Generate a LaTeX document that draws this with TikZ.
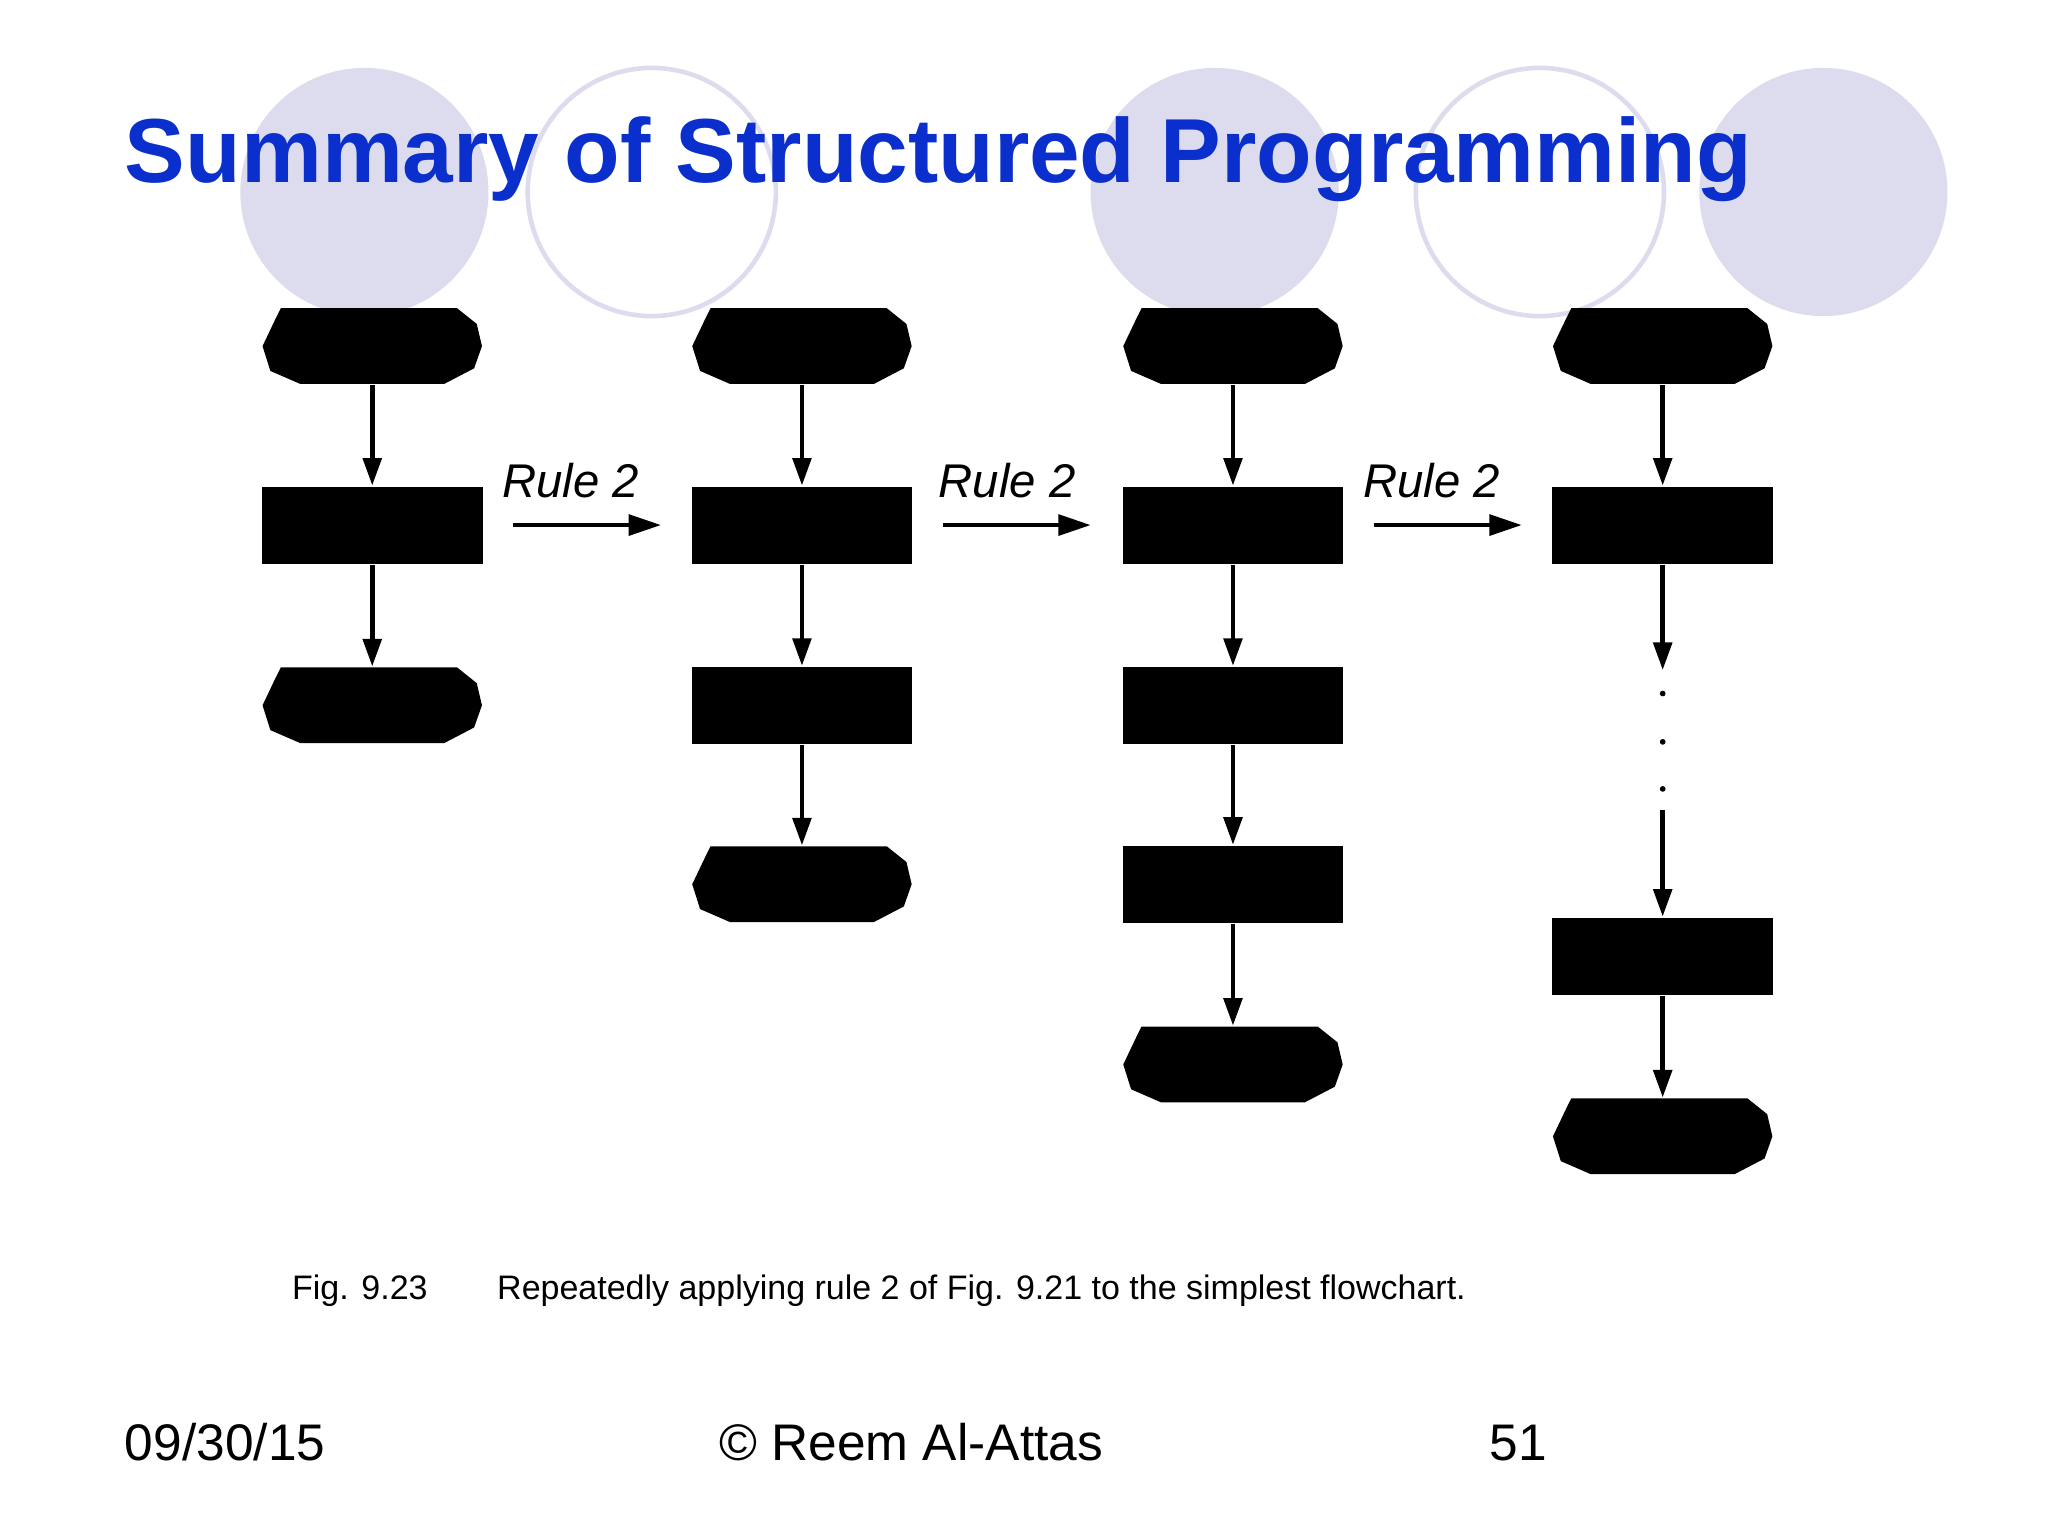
\documentclass[tikz,border=0pt]{standalone}
\usepackage{fontspec}
\setmainfont{Liberation Sans}
\usetikzlibrary{arrows.meta}
\definecolor{lav}{HTML}{DCDCEE}
\definecolor{ttl}{HTML}{0A2FCC}
\newcommand{\termshape}[1]{\fill ([shift={(-70,-29)}]#1.center) -- ([shift={(65,-29)}]#1.center) -- ([shift={(80,-17)}]#1.center) -- ([shift={(84,0)}]#1.center) -- ([shift={(78,17)}]#1.center) -- ([shift={(55,29)}]#1.center) -- ([shift={(-55,29)}]#1.center) -- ([shift={(-78,19)}]#1.center) -- ([shift={(-84,0)}]#1.center) -- ([shift={(-74,-21)}]#1.center) -- cycle;}
\begin{document}
\begin{tikzpicture}[x=0.01cm,y=-0.01cm,
  proc/.style={draw=none,fill=black,minimum width=1.69cm,minimum height=0.59cm,inner sep=0},
  term/.style={draw=none,minimum width=1.69cm,minimum height=0.58cm,inner sep=0},
  flow/.style={line width=0.035cm,-{Triangle[length=6pt,width=4pt]}},
  rulearr/.style={line width=0.03cm,-{Triangle[length=7pt,width=4.5pt]}},
  rulelbl/.style={font=\fontsize{10.3}{12}\selectfont\itshape,anchor=base west,inner sep=0}]
\useasboundingbox (0,0) rectangle (1568,1176);
\fill[white] (0,0) rectangle (1568,1176);
% circles
\fill[lav] (279,147) circle (95);
\fill[lav] (930,147) circle (95);
\fill[lav] (1396,147) circle (95);
\draw[lav,line width=0.035cm] (499,147) circle (95);
\draw[lav,line width=0.035cm] (1179,147) circle (95);
\node[anchor=base west,inner sep=0,text=ttl,font=\fontsize{19.8}{23}\selectfont\bfseries] (title) at (95,140) {Summary of Structured Programming};
% column 1
\node[term] (a1) at (285,265) {};
\node[proc] (a2) at (285,402) {};
\node[term] (a3) at (285,540) {};
\termshape{a1}\termshape{a3}
\draw[flow] (a1) -- (a2);
\draw[flow] (a2) -- (a3);
% column 2
\node[term] (b1) at (614,265) {};
\node[proc] (b2) at (614,402) {};
\node[proc] (b3) at (614,540) {};
\node[term] (b4) at (614,677) {};
\termshape{b1}\termshape{b4}
\draw[flow] (b1) -- (b2);
\draw[flow] (b2) -- (b3);
\draw[flow] (b3) -- (b4);
% column 3
\node[term] (c1) at (944,265) {};
\node[proc] (c2) at (944,402) {};
\node[proc] (c3) at (944,540) {};
\node[proc] (c4) at (944,677) {};
\node[term] (c5) at (944,815) {};
\termshape{c1}\termshape{c5}
\draw[flow] (c1) -- (c2);
\draw[flow] (c2) -- (c3);
\draw[flow] (c3) -- (c4);
\draw[flow] (c4) -- (c5);
% column 4
\node[term] (d1) at (1273,265) {};
\node[proc] (d2) at (1273,402) {};
\coordinate (d2e) at (1273,513);
\coordinate (d3s) at (1273,620);
\node[proc] (d3) at (1273,732) {};
\node[term] (d4) at (1273,870) {};
\termshape{d1}\termshape{d4}
\draw[flow] (d1) -- (d2);
\draw[flow] (d2) -- (d2e);
\draw[flow] (d3s) -- (d3);
\draw[flow] (d3) -- (d4);
\fill (1273,531) circle (2.2);
\fill (1273,568) circle (2.2);
\fill (1273,604) circle (2.2);
% rule arrows
\node[rulelbl] (r1) at (384,381) {Rule 2};
\node[rulelbl] (r2) at (718,381) {Rule 2};
\node[rulelbl] (r3) at (1043,381) {Rule 2};
\coordinate (r1s) at (393,402); \coordinate (r1e) at (506,402);
\coordinate (r2s) at (722,402); \coordinate (r2e) at (835,402);
\coordinate (r3s) at (1052,402); \coordinate (r3e) at (1165,402);
\draw[rulearr] (r1s) -- (r1e);
\draw[rulearr] (r2s) -- (r2e);
\draw[rulearr] (r3s) -- (r3e);
% caption
\node[anchor=base west,inner sep=0,font=\fontsize{7.4}{9}\selectfont] (fig) at (223,995) {Fig. 9.23};
\node[anchor=base west,inner sep=0,font=\fontsize{7.4}{9}\selectfont] (cap) at (380,995) {Repeatedly applying rule 2 of Fig. 9.21 to the simplest flowchart.};
% footer
\node[anchor=base west,inner sep=0,font=\fontsize{11.2}{13}\selectfont] (date) at (95,1118) {09/30/15};
\node[anchor=base west,inner sep=0,font=\fontsize{11.2}{13}\selectfont] (auth) at (550,1118) {© Reem Al-Attas};
\node[anchor=base west,inner sep=0,font=\fontsize{11.2}{13}\selectfont] (num) at (1140,1118) {51};
\end{tikzpicture}
\end{document}
